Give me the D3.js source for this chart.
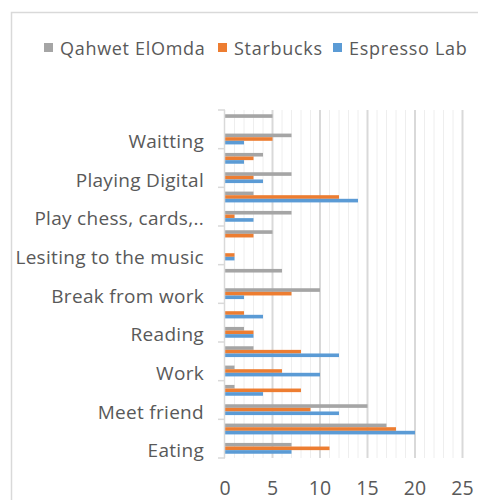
<!DOCTYPE html>
<html>
<head>
<meta charset="utf-8">
<script src="https://cdn.jsdelivr.net/npm/d3@7"></script>
<style>
  html, body { margin: 0; padding: 0; background: #fff; }
  svg { display: block; }
  text { font-family: "Open Sans", "Noto Sans", sans-serif; fill: #595959; }
</style>
</head>
<body>
<svg id="chart" width="478" height="500"></svg>
<script>
// Categories listed bottom to top; only every other label is shown on the axis (interval 2)
const categories = [
  "Eating", "", "Meet friend", "", "Work", "", "Reading", "",
  "Break from work", "", "Lesiting to the music", "", "Play chess, cards,..", "",
  "Playing Digital", "", "Waitting", ""
];
const seriesNames = ["Qahwet ElOmda", "Starbucks", "Espresso Lab"];
const qahwet   = [7, 17, 15, 1, 1, 3, 2, 0, 10, 6, 0, 5, 7, 3, 7, 4, 7, 5];
const starbucks = [11, 18, 9, 8, 6, 8, 3, 2, 7, 0, 1, 3, 1, 12, 3, 3, 5, 0];
const espresso = [7, 20, 12, 4, 10, 12, 3, 4, 2, 0, 1, 0, 3, 14, 4, 2, 2, 0];
const xTicks = [0, 5, 10, 15, 20, 25];

const colors = ["#a5a5a5", "#ed7d31", "#5b9bd5"];
const seriesValues = [qahwet, starbucks, espresso];

const svg = d3.select("#chart");

// chart frame
svg.append("rect").attr("x", 11.5).attr("y", 12.5).attr("width", 480).attr("height", 500)
  .attr("fill", "none").attr("stroke", "#d9d9d9").attr("stroke-width", 1.5);

const plot = { left: 225, right: 462.5, top: 110, bottom: 458 };

const x = d3.scaleLinear().domain([0, 25]).range([plot.left, plot.right]);
const idx = d3.range(categories.length);
const y = d3.scaleBand().domain(idx.slice().reverse()).range([plot.top, plot.bottom]).paddingInner(0.44).paddingOuter(0.22);
const yGroup = d3.scaleBand().domain(idx.slice().reverse()).range([plot.top, plot.bottom]);
// within group: first series on top
const ySub = d3.scaleBand().domain([0, 1, 2]).range([0, y.bandwidth()]);

// gridlines
const g = svg.append("g");
g.selectAll("line.minor").data(d3.range(1, 25).filter(v => v % 5 !== 0)).join("line")
  .attr("x1", d => x(d)).attr("x2", d => x(d))
  .attr("y1", plot.top).attr("y2", plot.bottom)
  .attr("stroke", "#eeeeee").attr("stroke-width", 1);
g.selectAll("line.major").data(xTicks.filter(v => v > 0)).join("line")
  .attr("x1", d => x(d)).attr("x2", d => x(d))
  .attr("y1", plot.top).attr("y2", plot.bottom)
  .attr("stroke", "#d9d9d9").attr("stroke-width", 2);

// bars
seriesValues.forEach((vals, si) => {
  svg.append("g").selectAll("rect").data(idx).join("rect")
    .attr("x", x(0))
    .attr("y", i => y(i) + ySub(si))
    .attr("width", i => x(vals[i]) - x(0))
    .attr("height", ySub.bandwidth())
    .attr("fill", colors[si]);
});

// y axis line and ticks (every 2 categories)
svg.append("line").attr("x1", x(0) - 0.5).attr("x2", x(0) - 0.5)
  .attr("y1", plot.top).attr("y2", plot.bottom)
  .attr("stroke", "#d9d9d9").attr("stroke-width", 1.5);
const tickYs = idx.filter(i => i % 2 === 0).map(i => yGroup(i) + yGroup.bandwidth()).concat([plot.top]);
svg.append("g").selectAll("line").data(tickYs).join("line")
  .attr("x1", x(0) - 7).attr("x2", x(0)).attr("y1", d => d).attr("y2", d => d)
  .attr("stroke", "#d9d9d9").attr("stroke-width", 1.5);

// category labels
svg.append("g").selectAll("text").data(idx.filter(i => categories[i] !== "")).join("text")
  .attr("x", 204)
  .attr("y", i => yGroup(i) + yGroup.bandwidth() / 2)
  .attr("dy", "0.47em")
  .attr("text-anchor", "end")
  .attr("font-size", 19)
  .attr("letter-spacing", 0.3)
  .text(i => categories[i]);

// x tick labels
svg.append("g").selectAll("text").data(xTicks).join("text")
  .attr("x", d => x(d))
  .attr("y", 495)
  .attr("text-anchor", "middle")
  .attr("font-size", 19.5)
  .text(d => d);

// legend
const legendX = [44, 218, 333];
const leg = svg.append("g");
seriesNames.forEach((n, i) => {
  leg.append("rect").attr("x", legendX[i]).attr("y", 43).attr("width", 9).attr("height", 9).attr("fill", colors[i]);
  leg.append("text").attr("x", legendX[i] + 16).attr("y", 55).attr("font-size", 18)
    .attr("letter-spacing", 0.7).text(n);
});
</script>
</body>
</html>
